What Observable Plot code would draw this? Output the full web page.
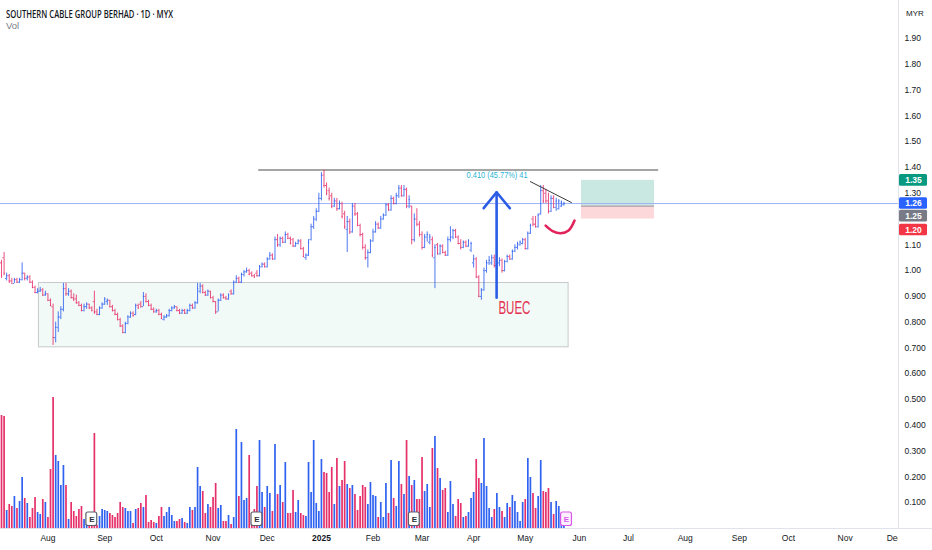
<!DOCTYPE html>
<html><head><meta charset="utf-8">
<script src="https://cdn.jsdelivr.net/npm/d3@7"></script>
<script src="https://cdn.jsdelivr.net/npm/@observablehq/plot@0.6"></script>
<style>
html,body{margin:0;padding:0;background:#fff;}
#wrap{position:relative;width:932px;height:550px;overflow:hidden;font-family:"Liberation Sans",Arial,sans-serif;}
#wrap svg{position:absolute;left:0;top:0;overflow:hidden;}
.hd{position:absolute;white-space:nowrap;transform-origin:left center;}
</style></head><body><div id="wrap"></div>
<script>
// ---- Daily bars (prices in sen), Jul 2024 – May 2025 ----
const open = [103,105,97,98,96,95,96.5,95.5,96.5,99,97,97.5,95.5,93.5,91.5,92,92.5,90.5,91,88.5,86,74,78,82,85,93,91,92,89.5,89,87.5,86.5,84.5,86,87,85.5,88,84,83,85.5,87,88,88.5,86,84.5,83,81,78.5,76,79.5,82,83.5,83,86.5,87,86,90,88,86.5,85,84,84.5,83,81,82,82.5,84.5,85.5,86,84.5,83.5,84.5,83.5,84.5,86.5,85.5,87.5,92,94,91.5,90.5,92,89.5,88,84,88.5,90.5,89.5,89,92,91,95.5,97,95.5,98.5,99.5,100,99,98,99,98,101.5,102.5,101.5,104.5,106,104.5,112,110,112.5,111,114,112.5,112,109.5,110.5,111.5,108.5,105,106,112,117,120,123,128,137,133,131,129,125,127,124,126,122,116,119,115,125,122,117.5,114,109,105,107,111.5,115,118,116.5,120,121.5,125.5,123.5,128,126,129,132,129,131.5,125,125,112,120,118,114,109,113,111,112,105,110,106.5,109.5,107,106,112,113,115.5,113,110.5,109,111,109.5,108,103,104.5,97.5,90,92.5,100,103,103,105,102,103,104,100,103.5,105.5,104.5,107.5,109,110,110.5,112,108.5,114.5,120,118,117,122,131,130,127,123,128,124.5,124,125,125.5];
const high = [104,107,99,98.5,97,97,97,97,103,99,98,98,96,94,93,93.5,93,92,91,89,87,80,84,86,95,95,93,92.5,91,90.5,88,87,87,87.5,87,86,92,85,86,87.5,89.5,89,88.5,86.5,85,83.5,81.5,79,80,82.5,84,84,87,87,88,91.5,91,88.5,87,85.5,85,85,83.5,82.5,83,85,86,86.5,86,85,85,85,85,87,87,88,95,95,94.5,92,92.5,92,90,88,89,91,91,90,91,92.5,96,98,97.5,99,100,101,100.5,99.5,98.5,100,102,103,103,105,107,106.5,113,114,113,113,115,114.5,113,112.5,111,112,112,109,106.5,112,118,121,124,130,138,139,134,132,130,128,128,127,126.5,123,121,120,126,126,122.5,118,114.5,110,108,112,116,119,118.5,121,122,126,126,129,128.5,130,133,133,133,132,129,125,122,124,119,115,114,115,114,113,110,110.5,110,110,107.5,113,117,116,116,113.5,112,111.5,111.5,112,111,106,105,98,93,101,104,105.5,106,106,104,105,104.5,104,106,106,108,110,111,111.5,112.5,112.5,115,118,121,121,122,133,133,131.5,130,129,129,128,127.5,127,126.5];
const low = [97,98,96,95,95,95,95,95,96,96,96,95,93,91,91,91.5,90,90,88,86,71,72,76,81,84,90,90,89,88,87,86,84,84,85,85,84,83,82.5,82.5,85,86.5,86.5,85.5,84,82.5,80.5,78,75.5,75.5,79,81.5,82,82.5,85,85.5,86,87.5,86,84.5,83.5,83.5,82.5,81,80.5,81.5,82,84,85,84,83,83,83,83,84,85,85,87,91,91,90,90,89,87.5,83,84,88,89,88.5,88.5,90.5,90.5,95,95,95,97.5,99,98,97.5,97,97.5,97.5,101,101,101,104,104,104,109,109,110.5,110.5,112,110,109,109,110,108,105,104,105.5,111.5,116,119,122.5,127,132,129,127,124,124.5,123,123.5,120,116,107,114,114.5,121,117,113,108,104,101,106.5,111,114.5,116,116,119.5,121,123,123,125.5,125.5,128,128.5,128.5,124,124,110,111,117,113,108,108.5,111,110,105,93,106,106,106.5,105.5,105.5,111,112,112.5,110,108,108.5,109,109,107,101,97,89.5,88.5,92,99,102,102,101,100,101.5,99,99.5,103,104,104,107,108,109.5,110,108,108,114,117,116.5,116.5,121.5,126,126,122,122.5,124,123,123.5,124.5,125];
const close = [98,99,98,96,95,96.5,95.5,96.5,99,97,97.5,95.5,93.5,91.5,92,92.5,90.5,91,88.5,86.5,74,78,82,85,93,91,92,89.5,89,87.5,86.5,84.5,86,87,85.5,84.5,84,83,85.5,87,89,88.5,86,84.5,83,81,78.5,76,79.5,82,83.5,82.5,86.5,85.5,86,90,88,86.5,85,84,84.5,83,81.5,82,82.5,84.5,85.5,86,84.5,83.5,84.5,83.5,84.5,86.5,85.5,87.5,93,94,91.5,90.5,92,89.5,88,84,88.5,90.5,89.5,89,90.5,91,95.5,97,95.5,98.5,99.5,100,98.5,98,97.5,98,101.5,102.5,101.5,104.5,106,104.5,112,110,112.5,111,114,112.5,110.5,109.5,110.5,111.5,108.5,105.5,106,111,117,120,123,128,137,133,130,128,125,127,124,126,121,117,119,115,125,122,117.5,114,109,105,107,111.5,115,118,116.5,120,121.5,125.5,123.5,128,126,129,132,129,131.5,125,127.5,112,120,118,114,109,113,114,113,106,109,106.5,109.5,107,106,112,113,115.5,113,110.5,109,111,109.5,111.5,110.5,104.5,97.5,90,92.5,100,103,104,105,102,103,104,100,103.5,105.5,104.5,107.5,109,110.5,111,112,108.5,114.5,117.5,118,117,121.5,131,127,127,123,128,124.5,127,127,126.5,126];
// relative daily volume
const volume = [113,112,18,24,22,32,20,27,51,30,25,11,20,31,16,14,29,26,11,59,131,73,67,43,63,43,9,26,17,12,19,22,9,4,3,3,95,3,12,19,18,17,15,13,11,15,26,21,20,17,17,5,19,20,25,21,33,6,8,6,5,12,21,12,16,21,13,7,7,9,10,6,5,21,18,21,61,42,37,15,24,21,31,45,20,23,7,7,13,4,11,99,32,86,28,30,73,8,19,42,88,36,21,42,35,17,84,34,43,26,66,15,15,38,16,28,15,13,12,66,36,88,25,17,69,56,55,36,61,24,70,42,48,67,44,40,43,34,18,32,43,41,24,46,33,32,11,26,11,45,15,68,30,22,67,44,34,88,52,43,48,29,29,71,37,44,21,80,92,60,50,38,40,16,47,24,12,29,25,11,12,16,30,36,69,50,45,90,42,20,11,19,35,21,17,11,25,21,33,27,16,7,26,29,70,51,35,20,32,68,37,36,40,26,14,27,22,5,2];

// month ticks (bar index of first session of the month)
const monthIdx = [18,40,60,82,103,124,144,163,183,203,224,243,265,286,305,327,346];
const monthLabels = ["Aug","Sep","Oct","Nov","Dec","2025","Feb","Mar","Apr","May","Jun","Jul","Aug","Sep","Oct","Nov","Dec"];
// price scale labels (1.20 sits under the badges)
const priceTicks = [0.1,0.2,0.3,0.4,0.5,0.6,0.7,0.8,0.9,1.0,1.1,1.3,1.4,1.5,1.6,1.7,1.8,1.9];
const earningsIdx = [35,99,160,219];

// drawings (bar index / price)
const rangeBox = [{i1:14.5, i2:219.8, p1:0.7025, p2:0.952}];
const resistance = [{i1:99.7, i2:254.7, p:1.39}];
const trendLine = [{i:205.0, p:1.345},{i:220.9, p:1.264}];
const arrowShaft = [{i:191.9, p:0.895},{i:191.9, p:1.3037}];
const arrowHead = [{i:186.9, p:1.242},{i:191.9, p:1.3037},{i:197.0, p:1.242}];
const smile = [{i:210.9,p:1.1746},{i:213.6,p:1.1532},{i:216.7,p:1.1447},{i:219.8,p:1.1552},{i:222.1,p:1.1939}];
const noteBUEC = [{i:192.6, p:0.853, text:"BUEC"}];
const noteMeasure = [{i:192.1, p:1.368, text:"0.410 (45.77%) 41"}];
const position = [{i1:224.8, i2:253.1, target:1.35, entry:1.25, stop:1.20}];
const lastPrice = 1.26;
const badgeValues = [1.35, 1.26, 1.25, 1.20];

// ---- build ----
const UP = "#2f62f0", DOWN = "#e6306a";
const FONT = '"Liberation Sans", Arial, sans-serif';
const table = close.map((c, i) => ({i, o: open[i]/100, h: high[i]/100, l: low[i]/100, c: c/100, v: volume[i], up: c >= open[i]}));
const lastIdx = close.length - 1;
const XD = [-0.3876, 347.67];
const YD = [0, 2.0473];
const pxI = (px) => (px - 1) / 2.58; // helper for the axis gutter only

const monthMap = new Map(monthIdx.map((d, k) => [d, monthLabels[k]]));

const volPlot = Plot.plot({
  width: 898, height: 550, marginLeft: 0, marginRight: 0, marginTop: 0, marginBottom: 22,
  style: {background: "transparent", fontFamily: FONT, fontSize: "8.5px", color: "#131722", overflow: "hidden"},
  x: {domain: XD, range: [0, 898], label: null},
  y: {domain: [0, 528], range: [528, 0], axis: null, label: null},
  marks: [
    Plot.ruleX(table, {x: "i", y1: 0, y2: "v", stroke: d => d.up ? UP : DOWN, strokeWidth: 1.7}),
    Plot.rect(earningsIdx, {x1: d => d - 2.1, x2: d => d + 2.1, y1: 2.5, y2: 16, fill: d => d > lastIdx ? "#fdf0fe" : "white", stroke: d => d > lastIdx ? "#d957e8" : "#5d606b", strokeWidth: 1.2, rx: 2}),
    Plot.text(earningsIdx, {x: d => d, y: 9.3, text: () => "E", fontSize: 8, fontWeight: "bold", fill: d => d > lastIdx ? "#d957e8" : "#2a2e39"}),
    Plot.axisX({ticks: monthIdx, tickFormat: d => monthMap.get(d), tickSize: 0, tickPadding: 6, fontSize: 8.5, label: null})
  ]
});

const badgeMarks = [];
const badgeColors = ["#089981", "#2962ff", "#787b86", "#f23645"];
const badgeShift = [0, 0, 10, 11];
badgeValues.forEach((v, k) => {
  badgeMarks.push(Plot.rect([v], {x1: pxI(899), x2: pxI(927), y1: d => d - 0.0225, y2: d => d + 0.0225, fill: badgeColors[k], rx: 1.5, dy: badgeShift[k]}));
  badgeMarks.push(Plot.text([v], {x: pxI(913), y: d => d, text: d => d.toFixed(2), fill: "white", fontWeight: "bold", fontSize: 8.5, dy: badgeShift[k]}));
});

const pricePlot = Plot.plot({
  width: 932, height: 550, marginLeft: 0, marginRight: 34, marginTop: 0, marginBottom: 22,
  style: {background: "transparent", fontFamily: FONT, fontSize: "8.5px", color: "#131722"},
  x: {domain: XD, range: [0, 898], axis: null, label: null},
  y: {domain: YD, range: [528, 0], label: null},
  marks: [
    Plot.rect(rangeBox, {x1: "i1", x2: "i2", y1: "p1", y2: "p2", fill: "#f2faf7", stroke: "#c5c9cc", strokeWidth: 1}),
    Plot.rect(position, {x1: "i1", x2: "i2", y1: "entry", y2: "target", fill: "#c9e8e2"}),
    Plot.rect(position, {x1: "i1", x2: "i2", y1: "stop", y2: "entry", fill: "#fcd8db"}),
    Plot.ruleY(position, {x1: "i1", x2: "i2", y: "entry", stroke: "#8e919a", strokeWidth: 1}),
    Plot.ruleY([lastPrice], {stroke: "#9db3f7", strokeWidth: 1}),
    Plot.ruleY(resistance, {x1: "i1", x2: "i2", y: "p", stroke: "#4d4d4d", strokeWidth: 1.2}),
    Plot.ruleX(table, {x: "i", y1: "l", y2: "h", stroke: d => d.up ? UP : DOWN, strokeWidth: 1, strokeOpacity: 0.85}),
    Plot.ruleY(table, {y: "o", x1: d => d.i - 0.45, x2: "i", stroke: d => d.up ? UP : DOWN, strokeWidth: 1, strokeOpacity: 0.85}),
    Plot.ruleY(table, {y: "c", x1: "i", x2: d => d.i + 0.45, stroke: d => d.up ? UP : DOWN, strokeWidth: 1, strokeOpacity: 0.85}),
    Plot.line(trendLine, {x: "i", y: "p", stroke: "#3a3a3a", strokeWidth: 1}),
    Plot.line(arrowShaft, {x: "i", y: "p", stroke: "#2b5ce6", strokeWidth: 2.6}),
    Plot.line(arrowHead, {x: "i", y: "p", stroke: "#2b5ce6", strokeWidth: 2.6, strokeLinejoin: "miter"}),
    Plot.line(smile, {x: "i", y: "p", curve: "catmull-rom", stroke: "#e2245c", strokeWidth: 2.6, strokeLinecap: "round"}),
    Plot.text(noteBUEC, {x: "i", y: "p", text: "text", textAnchor: "start", fontSize: 18, fill: "#e5304f"}),
    Plot.text(noteMeasure, {x: "i", y: "p", text: "text", fontSize: 8.5, fill: "#2ab4d4"}),
    Plot.axisY(priceTicks, {anchor: "right", tickSize: 0, tickPadding: 6, fontSize: 8.5, label: null, tickFormat: d => d < 1 ? d.toFixed(3) : d.toFixed(2)}),
    Plot.ruleX([XD[1]], {y1: YD[0], y2: YD[1], stroke: "#e0e3eb"}),
    Plot.ruleY([0], {x1: XD[0], x2: pxI(932), stroke: "#e0e3eb"}),
    ...badgeMarks
  ]
});

const wrap = document.getElementById("wrap");
wrap.appendChild(volPlot);
wrap.appendChild(pricePlot);

d3.select(volPlot).selectAll("text").filter(function(){ return this.textContent === "2025"; }).attr("font-weight", "bold");
d3.select(pricePlot).selectAll("text").each(function(){
  if (this.textContent === "BUEC") { this.setAttribute("textLength", 32); this.setAttribute("lengthAdjust", "spacingAndGlyphs"); }
  if (this.textContent === "0.410 (45.77%) 41") { this.setAttribute("textLength", 61); this.setAttribute("lengthAdjust", "spacingAndGlyphs"); }
});

function addHead(txt, left, top, css, fitWidth) {
  const el = document.createElement("div");
  el.className = "hd"; el.textContent = txt;
  el.style.left = left + "px"; el.style.top = top + "px";
  Object.assign(el.style, css);
  wrap.appendChild(el);
  if (fitWidth) { const w = el.getBoundingClientRect().width; el.style.transform = `scaleX(${fitWidth / w})`; }
}
addHead("SOUTHERN CABLE GROUP BERHAD · 1D · MYX", 6, 8, {fontSize: "9.8px", fontWeight: "600", color: "#131722", fontFamily: '"Open Sans", "Liberation Sans", sans-serif'}, 167);
addHead("Vol", 6, 20, {fontSize: "9.5px", color: "#787b86"}, 0);
addHead("MYR", 906, 9, {fontSize: "8px", color: "#131722"}, 0);
</script></body></html>
